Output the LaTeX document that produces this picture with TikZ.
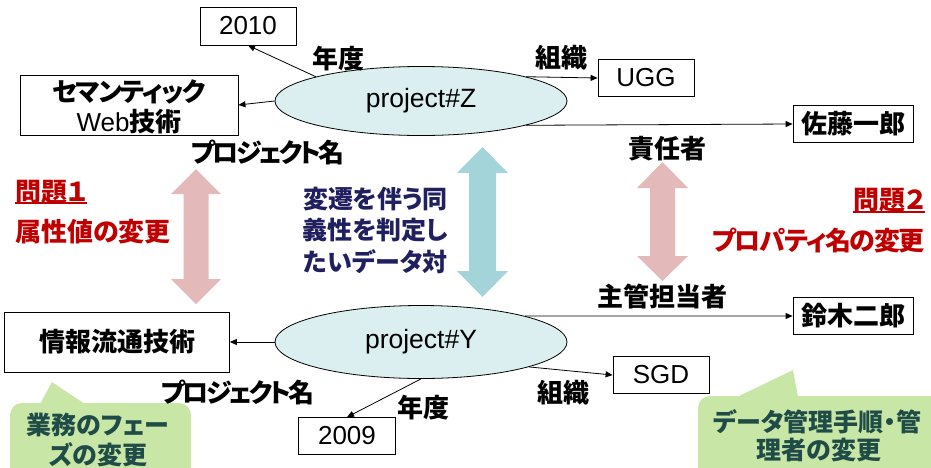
\documentclass[tikz,border=0pt]{standalone}
\usepackage{fontspec}
\setmainfont{Liberation Sans}
\newfontfamily\jpb[RawFeature=+palt]{Noto Sans CJK JP Black}
\newfontfamily\jpbk[RawFeature=+palt, LetterSpace=-11]{Noto Sans CJK JP Black}
\newfontfamily\jpbs[RawFeature=+palt, LetterSpace=-5]{Noto Sans CJK JP Black}
\usetikzlibrary{arrows.meta,shapes.geometric}
\definecolor{ellfill}{HTML}{DBEEF0}
\definecolor{cyanarr}{HTML}{A3D4D9}
\definecolor{pinkarr}{HTML}{E4B9B9}
\definecolor{callout}{HTML}{C8E6A6}
\definecolor{redtxt}{HTML}{C00000}
\definecolor{navytxt}{HTML}{202060}
\definecolor{calltxt}{HTML}{1F4C47}
\begin{document}
\begin{tikzpicture}[x=1pt,y=-1pt,
  box/.style={draw, line width=0.8pt, inner sep=0pt, align=center},
  lat/.style={font=\fontsize{26}{30}\selectfont},
  jtx/.style={font=\jpb\fontsize{26}{30}\selectfont},
  lbl/.style={font=\jpb\fontsize{26}{30}\selectfont, inner sep=0pt},
  redlbl/.style={lbl, text=redtxt},
  conn/.style={line width=0.8pt, -{Triangle[length=7pt,width=6pt]}},
  ell/.style={ellipse, draw, line width=0.8pt, fill=ellfill, inner sep=0pt, font=\fontsize{26.5}{30}\selectfont},
  calltext/.style={font=\jpb\fontsize{25}{30}\selectfont, text=calltxt, inner sep=0pt}
]
\useasboundingbox (0,0) rectangle (931,467);
\clip (0,0) rectangle (931,467);

% big double arrows
\fill[pinkarr] (196,169) -- (221,194) -- (208.5,194) -- (208.5,279) -- (221,279) -- (196,304) -- (171,279) -- (183.5,279) -- (183.5,194) -- (171,194) -- cycle;
\fill[cyanarr] (482.5,147) -- (508,173) -- (496,173) -- (496,271) -- (508,271) -- (482.5,297) -- (457,271) -- (469,271) -- (469,173) -- (457,173) -- cycle;
\fill[pinkarr] (662.5,162) -- (688,188) -- (675,188) -- (675,256) -- (688,256) -- (662.5,281) -- (637,256) -- (650,256) -- (650,188) -- (637,188) -- cycle;

% callouts
\fill[callout, rounded corners=12pt] (10,403) rectangle (191,490);
\fill[callout] (52,382) -- (85,404) -- (40,404) -- cycle;
\fill[callout, rounded corners=12pt] (698,396) rectangle (950,490);
\fill[callout] (793,370) -- (798,397) -- (737,397) -- cycle;
\node[calltext] (c1a) at (98,425) {業務のフェー};
\node[calltext] (c1b) at (98,455) {ズの変更};
\node[calltext] (c2a) at (817,422) {データ管理手順・管};
\node[calltext] (c2b) at (819,450) {理者の変更};

% ellipses
\node[ell, minimum width=292pt, minimum height=69pt] (ez) at (421,101) {project\#Z};
\node[ell, minimum width=292pt, minimum height=73pt] (ey) at (421,342) {project\#Y};

% boxes top
\node[box, lat, minimum width=96pt, minimum height=38pt] (b2010) at (248,26) {2010};
\node[box, minimum width=218pt, minimum height=60pt] (web) at (129,105) {};
\node[font=\jpbs\fontsize{26}{30}\selectfont, inner sep=0pt] (webA) at (129,92) {セマンティック};
\node[inner sep=0pt] (webB) at (129,122) {\fontsize{26}{30}\selectfont Web\jpb 技術};
\node[box, lat, minimum width=96pt, minimum height=37pt] (ugg) at (646,78) {UGG};
\node[box, jtx, minimum width=120pt, minimum height=37pt] (sato) at (853,124) {佐藤一郎};

% boxes bottom
\node[box, jtx, minimum width=225pt, minimum height=60pt] (joho) at (117,342) {情報流通技術};
\node[box, jtx, minimum width=120pt, minimum height=37pt] (suzuki) at (853,316) {鈴木二郎};
\node[box, lat, minimum width=96pt, minimum height=37pt] (sgd) at (661,375) {SGD};
\node[box, lat, minimum width=97pt, minimum height=37pt] (b2009) at (347,436) {2009};

% connectors
\draw[conn] (ez.167) -- (b2010.south);
\draw[conn] (ez.west) -- (web.east);
\draw[conn] (ez.13) -- (ugg.west);
\draw[conn] (ez.-13) -- (sato.west);
\draw[conn] (ey.west) -- (joho.east);
\draw[conn] (ey.14) -- (suzuki.west);
\draw[conn] (ey.-13) -- (sgd.west);
\draw[conn] (ey.south) -- (b2009.north);

% edge labels
\node[lbl] (l1) at (338,59) {年度};
\node[lbl, font=\jpbk\fontsize{26}{30}\selectfont] (l2) at (268,152) {プロジェクト名};
\node[lbl] (l3) at (561,58) {組織};
\node[lbl] (l4) at (667,149) {責任者};
\node[lbl] (l5) at (662,297) {主管担当者};
\node[lbl] (l6) at (563,393) {組織};
\node[lbl, font=\jpbk\fontsize{26}{30}\selectfont] (l7) at (238,392) {プロジェクト名};
\node[lbl] (l8) at (423,408) {年度};

% red problem texts
\node[redlbl, anchor=west] (p1) at (15,192) {問題１};
\draw[redtxt, line width=2pt] (15,203) -- (p1.east |- 0,203);
\node[redlbl, anchor=west] (p1b) at (15,232) {属性値の変更};
\node[redlbl, anchor=east] (p2) at (925,200) {問題２};
\draw[redtxt, line width=2pt] (p2.west |- 0,212) -- (925,212);
\node[redlbl, anchor=east, font=\jpbs\fontsize{26}{30}\selectfont] (p2b) at (925,240) {プロパティ名の変更};

% navy central text
\node[font=\jpb\fontsize{25}{31.5}\selectfont, text=navytxt, align=center, inner sep=0pt] (mid) at (375.5,230) {変遷を伴う同\\義性を判定し\\たいデータ対};
\end{tikzpicture}
\end{document}
